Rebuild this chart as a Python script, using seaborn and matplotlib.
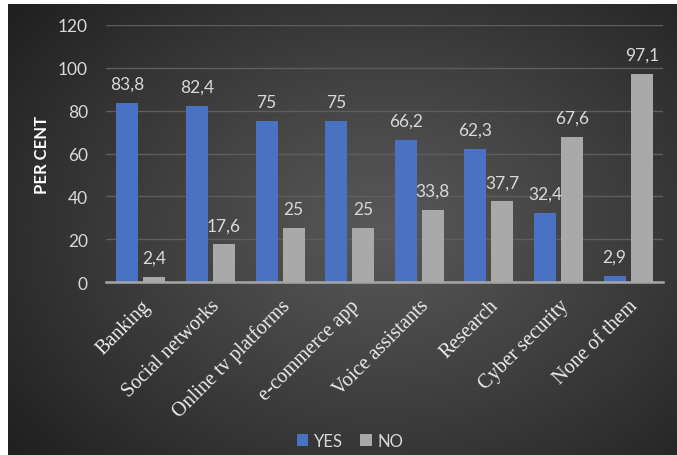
import numpy as np
import pandas as pd
import matplotlib.pyplot as plt
import matplotlib.transforms as mtransforms
from matplotlib.patches import Patch
import seaborn as sns

categories = ['Banking', 'Social networks', 'Online tv platforms', 'e-commerce app',
              'Voice assistants', 'Research', 'Cyber security', 'None of them']
yes_values = [83.8, 82.4, 75, 75, 66.2, 62.3, 32.4, 2.9]
no_values = [2.4, 17.6, 25, 25, 33.8, 37.7, 67.6, 97.1]
series_names = ['YES', 'NO']
y_ticks = [0, 20, 40, 60, 80, 100, 120]

blue = '#4a72c2'
grey = '#a9a9a9'
text_grey = '#d9d9d9'

sns.set_theme(style='dark')
plt.rcParams['font.family'] = ['Lato', 'DejaVu Sans']

df = pd.DataFrame({
    'category': categories * 2,
    'answer': [series_names[0]] * len(categories) + [series_names[1]] * len(categories),
    'value': yes_values + no_values,
})

W, H = 677, 456
fig = plt.figure(figsize=(W / 100, H / 100), dpi=100)
fig.patch.set_facecolor('white')

# dark radial background of the chart area
bg = fig.add_axes([8 / W, 0, 1 - 8 / W, 1 - 5 / H])
xx, yy = np.meshgrid(np.linspace(0, 1, 400), np.linspace(0, 1, 300))
dist = np.sqrt(((xx - 0.56) * 1.0) ** 2 + ((yy - 0.5) * 0.9) ** 2)
t = np.clip(dist / 0.72, 0, 1) ** 1.1
centre, edge = 0x58, 0x1f
shade = (centre - (centre - edge) * t) / 255.0
bg.imshow(np.dstack([shade, shade, shade]), aspect='auto', extent=[0, 1, 0, 1])
bg.set_axis_off()

ax = fig.add_axes([106 / W, 1 - 283 / H, (663 - 106) / W, (283 - 26) / H])
ax.set_facecolor('none')
sns.barplot(data=df, x='category', y='value', hue='answer', order=categories,
            hue_order=series_names, palette=[blue, grey], width=0.776, gap=0.185,
            saturation=1, linewidth=0, edgecolor='none', legend=False, ax=ax)

ax.set_ylim(0, 120)
ax.set_yticks(y_ticks)
ax.set_xlim(-0.5, len(categories) - 0.5)
ax.grid(axis='y', color='#5e5e5e', linewidth=1)
ax.grid(axis='x', visible=False)
ax.set_axisbelow(True)
for side in ['top', 'right', 'left']:
    ax.spines[side].set_visible(False)
ax.spines['bottom'].set_color('#a6a6a6')
ax.spines['bottom'].set_linewidth(1.8)
ax.tick_params(axis='both', length=0)
ax.tick_params(axis='y', pad=13, labelsize=12.5, labelcolor=text_grey)
ax.tick_params(axis='x', pad=15)
ax.set_xlabel('')
ax.set_ylabel('PER CENT', fontsize=12, fontweight='bold', color='white', labelpad=6)

offset = mtransforms.ScaledTranslation(5 / 72, 0, fig.dpi_scale_trans)
for lbl in ax.get_xticklabels():
    lbl.set_rotation(45)
    lbl.set_ha('right')
    lbl.set_va('center')
    lbl.set_rotation_mode('anchor')
    lbl.set_fontfamily('Liberation Serif')
    lbl.set_fontsize(14.5)
    lbl.set_color('#ececec')
    lbl.set_transform(lbl.get_transform() + offset)

def fmt(v):
    return ('%g' % v).replace('.', ',')

for container, vals in zip(ax.containers, [yes_values, no_values]):
    ax.bar_label(container, labels=[fmt(v) for v in vals], padding=8,
                 fontsize=12.5, color=text_grey)

handles = [Patch(facecolor=blue, edgecolor='none'), Patch(facecolor=grey, edgecolor='none')]
fig.legend(handles, series_names, loc='center', bbox_to_anchor=(350 / W, 1 - 442 / H),
           ncol=2, frameon=False, fontsize=12, labelcolor=text_grey,
           handlelength=0.7, handleheight=0.7, handletextpad=0.35, columnspacing=1.0)

fig.savefig('out.png', dpi=100)
